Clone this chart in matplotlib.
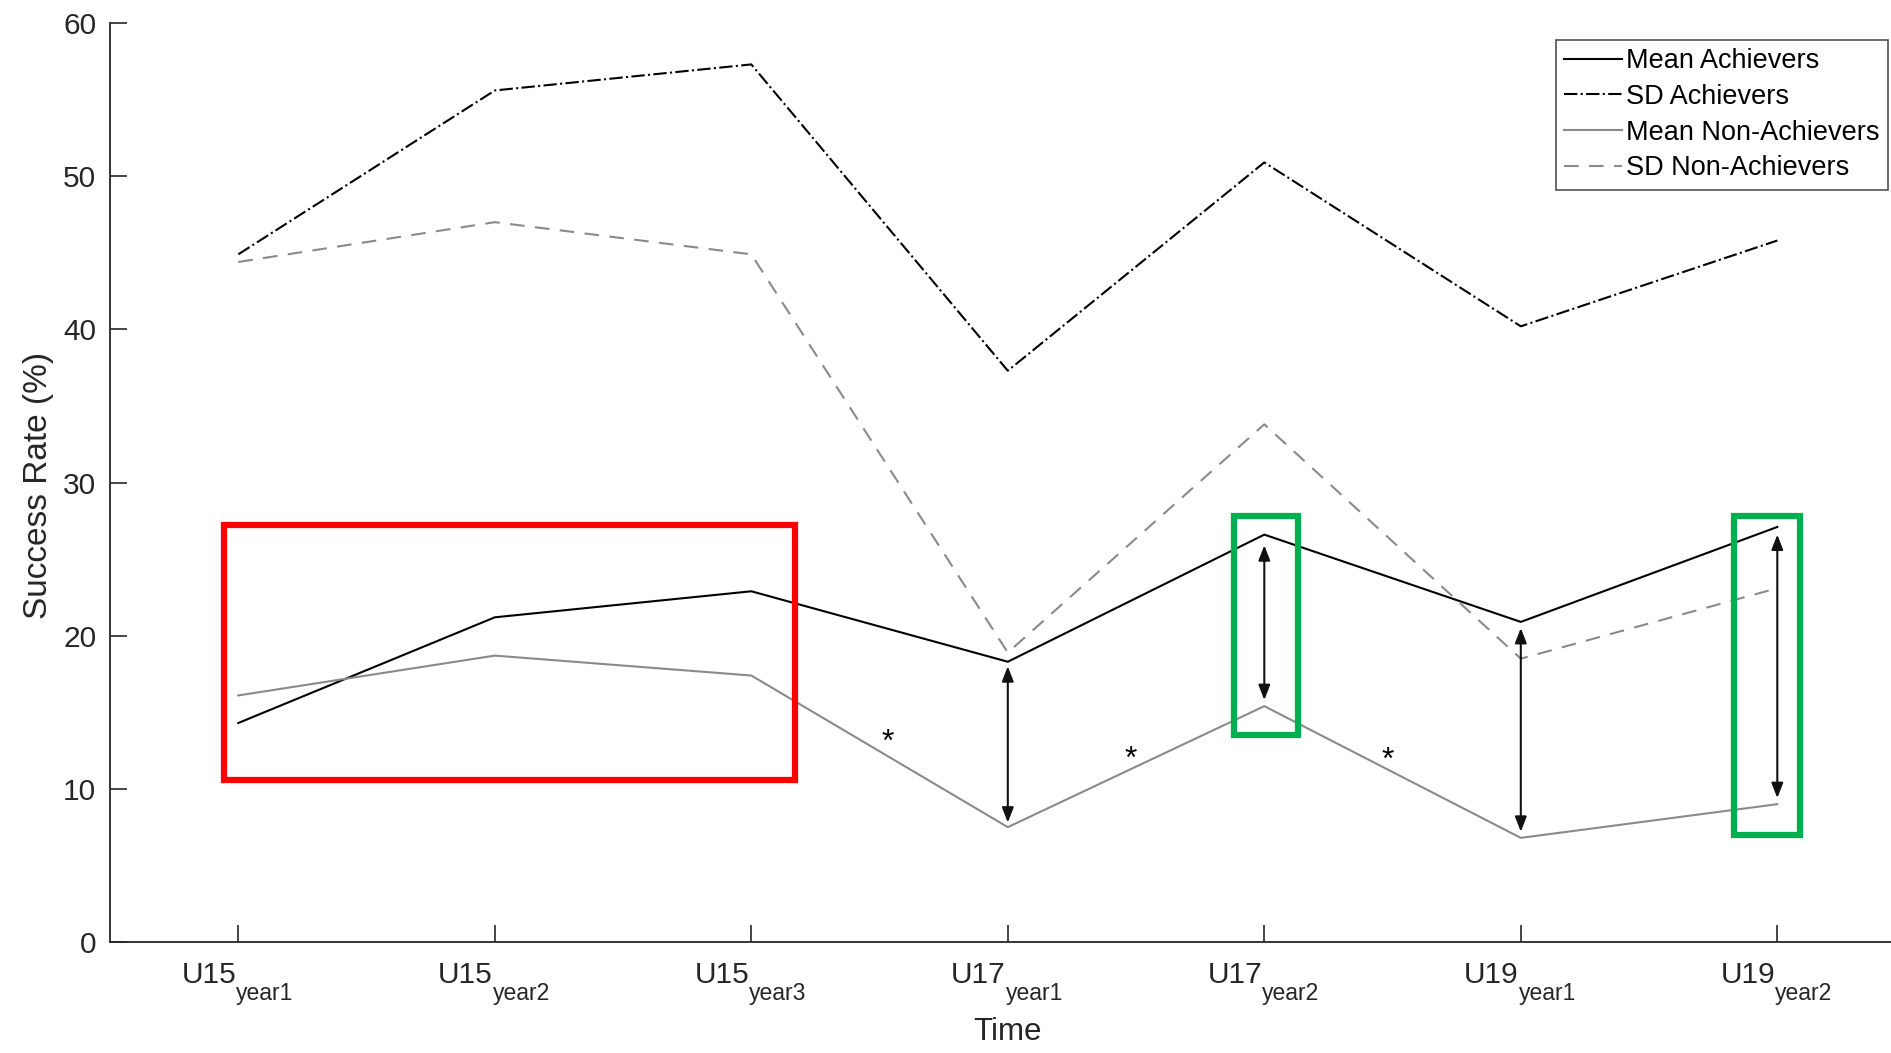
import matplotlib.pyplot as plt
import matplotlib.transforms as mtransforms
from matplotlib.patches import Rectangle
import numpy as np

plt.rcParams['font.family'] = ['Liberation Sans', 'DejaVu Sans']

# data
groups = ["U15", "U15", "U15", "U17", "U17", "U19", "U19"]
years = ["year1", "year2", "year3", "year1", "year2", "year1", "year2"]
mean_ach = [14.3, 21.2, 22.9, 18.3, 26.6, 20.9, 27.1]
sd_ach = [44.9, 55.6, 57.3, 37.3, 50.9, 40.2, 45.8]
mean_non = [16.1, 18.7, 17.4, 7.5, 15.4, 6.8, 9.0]
sd_non = [44.4, 47.0, 44.9, 18.9, 33.8, 18.5, 23.1]

# double arrows (x, top, bottom)
arrows = [(4, 18.0, 7.8), (5, 25.9, 15.8), (6, 20.5, 7.2), (7, 26.6, 9.4)]
# asterisks (x, y)
stars = [(3.53, 13.0), (4.48, 11.9), (5.48, 11.8)]
# highlight boxes (x0, y0, x1, y1, colour)
boxes = [(0.944, 10.6, 3.17, 27.2, '#ff0000'),
         (4.88, 13.5, 5.13, 27.8, '#00b050'),
         (6.83, 7.0, 7.09, 27.8, '#00b050')]

x = np.arange(1, len(groups) + 1)
txtc = '#262626'

fig = plt.figure(figsize=(18.91, 10.53), dpi=100)
ax = fig.add_axes([0.0582, 0.1054, 0.9495, 0.8727])

ax.plot(x, mean_ach, color='black', lw=1.5, label='Mean Achievers')
ax.plot(x, sd_ach, color='black', lw=1.5, linestyle='-.', label='SD Achievers')
ax.plot(x, mean_non, color='#8a8a8a', lw=1.5, label='Mean Non-Achievers')
ax.plot(x, sd_non, color='#8a8a8a', lw=1.5, linestyle=(0, (7, 5)), label='SD Non-Achievers')

for xa, top, bot in arrows:
  ax.annotate('', xy=(xa, top), xytext=(xa, bot),
              arrowprops=dict(arrowstyle='<|-|>,head_length=0.9,head_width=0.35',
                              color='#111111', lw=1.5, shrinkA=0, shrinkB=0))

for xs, ys in stars:
  ax.text(xs, ys, '*', fontsize=23, ha='center', va='center', color='black')

for x0, y0, x1, y1, c in boxes:
  ax.add_patch(Rectangle((x0, y0), x1 - x0, y1 - y0, fill=False,
                         edgecolor=c, lw=4.5, zorder=5))

ax.set_xlim(0.5, 7.5)
ax.set_ylim(0, 60)
ax.set_xticks(x)
ax.set_xticklabels([])
ax.set_yticks(np.arange(0, 61, 10))
ax.spines['top'].set_visible(False)
ax.spines['right'].set_visible(False)
for s in ['left', 'bottom']:
  ax.spines[s].set_color(txtc)
  ax.spines[s].set_linewidth(1.3)
ax.tick_params(direction='in', length=12, width=1.2, colors=txtc,
               labelsize=21.5, pad=10)

# tick labels with a deep subscript, like the original
base = ax.get_xaxis_transform()
main_tr = mtransforms.offset_copy(base, fig=fig, x=-2, y=-41, units='dots')
sub_tr = mtransforms.offset_copy(base, fig=fig, x=-2, y=-58, units='dots')
for xi, g, yr in zip(x, groups, years):
  ax.text(xi, 0, g, transform=main_tr, ha='right', va='baseline',
          fontsize=21.5, color=txtc)
  ax.text(xi, 0, yr, transform=sub_tr, ha='left', va='baseline',
          fontsize=16.5, color=txtc)

ax.set_xlabel('Time', fontsize=22.5, color=txtc)
ax.xaxis.label.set_va('baseline')
ax.xaxis.set_label_coords(0.5, -98 / 919)
ax.set_ylabel('Success Rate (%)', fontsize=24, color=txtc)
ax.yaxis.set_label_coords(-0.031, 0.497)

leg = fig.legend(loc='upper right', bbox_to_anchor=(1888 / 1891, 1 - 40 / 1053),
                 fontsize=19.5, frameon=True, fancybox=False, borderaxespad=0,
                 handlelength=2.15, handletextpad=0.15, labelspacing=0.36,
                 borderpad=0.3)
leg.get_frame().set_edgecolor(txtc)
leg.get_frame().set_linewidth(1.2)

plt.savefig("out.png", dpi=100)
